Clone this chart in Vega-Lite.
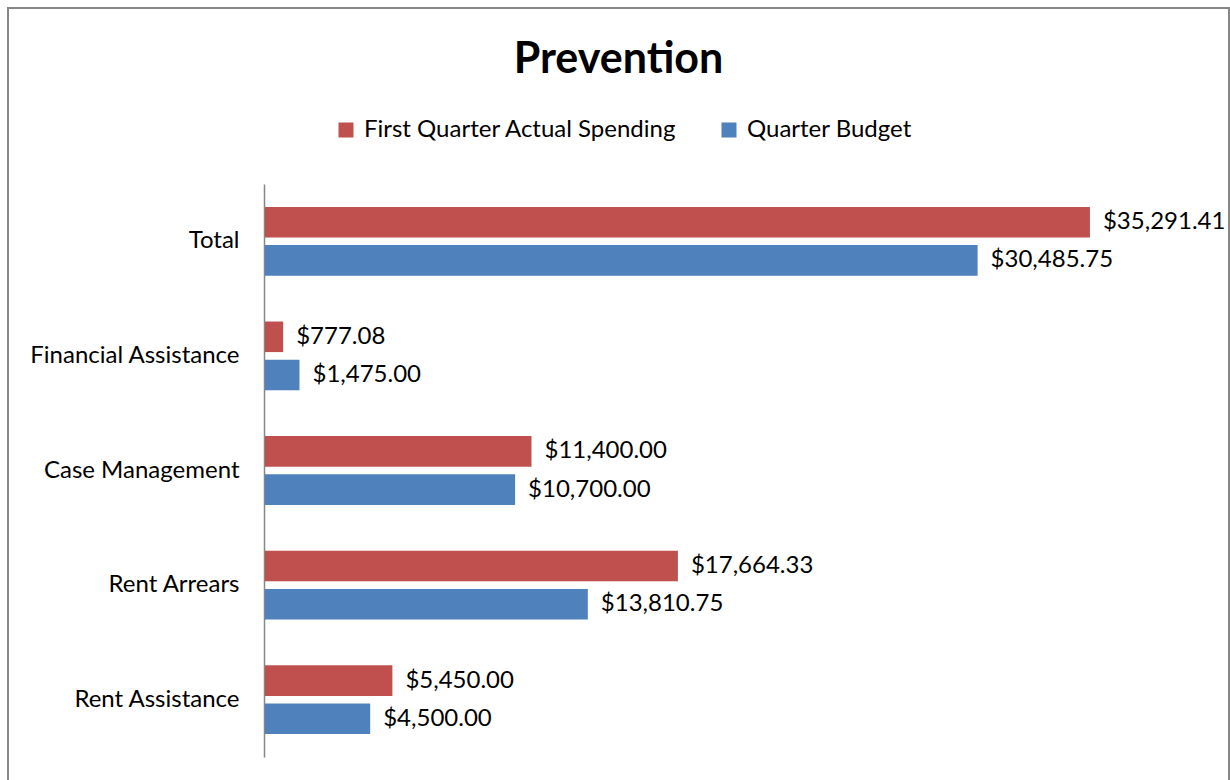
{
  "$schema": "https://vega.github.io/schema/vega-lite/v6.json",
  "width": 1221,
  "height": 790,
  "autosize": "none",
  "padding": {"left": 8, "top": 8, "right": 1, "bottom": 0},
  "background": "white",
  "config": {
    "view": {"stroke": "#878787", "strokeWidth": 2},
    "font": "Lato"
  },
  "title": {
    "text": "Prevention",
    "fontSize": 43,
    "fontWeight": "bold",
    "font": "Lato",
    "color": "black",
    "anchor": "middle",
    "frame": "group",
    "offset": -74
  },
  "data": {
    "values": [
      {"category": "Total", "series": "First Quarter Actual Spending", "value": 35291.41},
      {"category": "Total", "series": "Quarter Budget", "value": 30485.75},
      {"category": "Financial Assistance", "series": "First Quarter Actual Spending", "value": 777.08},
      {"category": "Financial Assistance", "series": "Quarter Budget", "value": 1475.00},
      {"category": "Case Management", "series": "First Quarter Actual Spending", "value": 11400.00},
      {"category": "Case Management", "series": "Quarter Budget", "value": 10700.00},
      {"category": "Rent Arrears", "series": "First Quarter Actual Spending", "value": 17664.33},
      {"category": "Rent Arrears", "series": "Quarter Budget", "value": 13810.75},
      {"category": "Rent Assistance", "series": "First Quarter Actual Spending", "value": 5450.00},
      {"category": "Rent Assistance", "series": "Quarter Budget", "value": 4500.00}
    ]
  },
  "encoding": {
    "y": {
      "field": "category",
      "type": "nominal",
      "sort": ["Total", "Financial Assistance", "Case Management", "Rent Arrears", "Rent Assistance"],
      "scale": {"range": [176, 749], "paddingInner": 0.4, "paddingOuter": 0.2},
      "axis": {
        "title": null,
        "offset": -256,
        "ticks": false,
        "labelPadding": 25,
        "labelFontSize": 24,
        "labelFont": "Lato",
        "labelColor": "black",
        "labelLimit": 400,
        "domainColor": "#878787",
        "domainWidth": 1.5,
        "grid": false
      }
    },
    "yOffset": {
      "field": "series",
      "type": "nominal",
      "sort": ["First Quarter Actual Spending", "Quarter Budget"],
      "scale": {"paddingInner": 0.2}
    },
    "x": {
      "field": "value",
      "type": "quantitative",
      "scale": {"domain": [0, 40000], "range": [257, 1192]},
      "axis": null
    }
  },
  "layer": [
    {
      "mark": {"type": "bar"},
      "encoding": {
        "color": {
          "field": "series",
          "type": "nominal",
          "sort": ["First Quarter Actual Spending", "Quarter Budget"],
          "scale": {"domain": ["First Quarter Actual Spending", "Quarter Budget"], "range": ["#C0504D", "#4F81BD"]},
          "legend": {
            "title": null,
            "orient": "none",
            "direction": "horizontal",
            "legendX": 326,
            "legendY": 110,
            "padding": 0,
            "symbolType": "square",
            "symbolSize": 225,
            "symbolStrokeWidth": 0,
            "symbolOpacity": 1,
            "labelFontSize": 24,
            "labelFont": "Lato",
            "labelColor": "black",
            "labelOffset": 6,
            "columnPadding": 40,
            "labelLimit": 500
          }
        }
      }
    },
    {
      "mark": {"type": "text", "align": "left", "baseline": "middle", "dx": 13, "fontSize": 24, "font": "Lato", "color": "black"},
      "encoding": {
        "text": {"field": "value", "type": "quantitative", "format": "$,.2f"},
        "detail": {"field": "series", "type": "nominal"}
      }
    }
  ]
}
